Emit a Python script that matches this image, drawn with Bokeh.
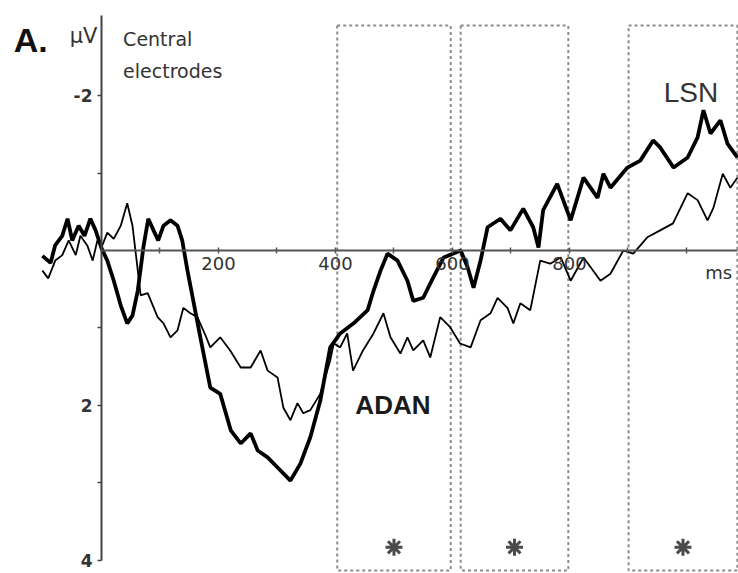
from bokeh.plotting import figure
from bokeh.models import Range1d, LinearAxis, FixedTicker
from bokeh.core.properties import value
from bokeh.embed import file_html
from bokeh.resources import INLINE

# ---- data (time in ms, amplitude in µV; negative plotted upward) ----
thick_t = [-101, -87, -79, -67, -58, -50, -39, -29, -19, -10,
           0, 10, 21, 33, 44, 53, 62, 72, 80, 89,
           97, 106, 118, 130, 138, 147, 157, 169, 186, 203,
           221, 238, 255, 267, 284, 301, 323, 340, 357, 374,
           391, 408, 431, 455, 465, 477, 489, 506, 523, 533,
           550, 567, 585, 614, 626, 636, 648, 660, 682, 699,
           721, 738, 747, 755, 779, 802, 824, 848, 858, 870,
           899, 921, 943, 955, 978, 1002, 1019, 1029, 1041, 1058,
           1070, 1087]
thick_v = [0.07, 0.16, -0.07, -0.19, -0.41, -0.13, -0.32, -0.19, -0.41, -0.26,
           -0.03, 0.13, 0.39, 0.71, 0.94, 0.84, 0.52, -0.06, -0.41, -0.26,
           -0.13, -0.32, -0.39, -0.32, -0.13, 0.26, 0.65, 1.12, 1.77, 1.85,
           2.32, 2.49, 2.36, 2.58, 2.67, 2.80, 2.97, 2.75, 2.41, 1.94,
           1.25, 1.07, 0.94, 0.77, 0.52, 0.26, 0.04, 0.13, 0.39, 0.65,
           0.61, 0.35, 0.09, 0.0, 0.22, 0.48, 0.13, -0.30, -0.41, -0.26,
           -0.54, -0.30, -0.04, -0.52, -0.86, -0.39, -0.94, -0.68, -0.99, -0.81,
           -1.07, -1.16, -1.42, -1.33, -1.07, -1.20, -1.46, -1.81, -1.51, -1.68,
           -1.38, -1.20]

thin_t = [-101, -91, -79, -67, -56, -44, -36, -24, -15, -7,
          0, 10, 21, 33, 44, 53, 61, 67, 79, 96,
          106, 118, 130, 140, 152, 164, 178, 186, 203, 220,
          238, 255, 272, 284, 301, 311, 323, 335, 345, 357,
          374, 391, 397, 408, 420, 430, 447, 465, 482, 494,
          511, 523, 533, 550, 562, 579, 596, 613, 631, 648,
          665, 677, 694, 704, 716, 733, 750, 767, 785, 802,
          824, 853, 870, 892, 909, 933, 955, 977, 1002, 1019,
          1036, 1046, 1062, 1075, 1087]
thin_v = [0.26, 0.36, 0.13, 0.06, -0.13, 0.06, -0.19, -0.06, 0.13, -0.13,
          -0.04, -0.23, -0.15, -0.32, -0.61, -0.32, 0.19, 0.58, 0.55, 0.86,
          0.94, 1.12, 1.03, 0.74, 0.81, 0.86, 1.10, 1.25, 1.12, 1.29,
          1.51, 1.51, 1.29, 1.55, 1.64, 2.03, 2.19, 1.97, 2.10, 2.06,
          1.85, 1.42, 1.20, 1.25, 1.07, 1.55, 1.29, 1.07, 0.81, 1.12,
          1.33, 1.12, 1.29, 1.16, 1.38, 0.86, 0.99, 1.20, 1.25, 0.90,
          0.81, 0.61, 0.74, 0.94, 0.68, 0.77, 0.13, 0.17, 0.09, 0.39,
          0.09, 0.39, 0.30, 0.0, 0.04, -0.17, -0.26, -0.35, -0.74, -0.65,
          -0.39, -0.55, -0.99, -0.81, -0.94]

win_start = [403, 614, 901]
win_end = [597, 798, 1087]

x_ticks = [100, 200, 300, 400, 500, 600, 700, 800, 900, 1000]
x_tick_labels = ["", "200", "", "400", "", "600", "", "800", "", ""]
y_ticks = [-2, -1, 1, 2, 3, 4]
y_tick_labels = ["-2", "", "", "2", "", "4"]

# ---- figure ----
p = figure(width=738, height=573,
           x_range=Range1d(-172.6, 1088.9), y_range=Range1d(4.168, -3.226),
           output_backend="svg", toolbar_location=None,
           x_axis_location=None, y_axis_location=None, min_border=0)
p.outline_line_color = None
p.background_fill_color = "white"
p.border_fill_color = "white"
for g in p.grid:
    g.grid_line_color = None

# analysis windows
p.quad(left=win_start, right=win_end, top=-2.903, bottom=4.13,
       fill_color=None, line_color="#8c8c8c", line_width=2, line_dash="3 3")

# axes at t=0 and v=0
xaxis = LinearAxis(fixed_location=0, bounds=(0, 1088),
                   ticker=FixedTicker(ticks=x_ticks, minor_ticks=[]),
                   major_label_overrides={t: l for t, l in zip(x_ticks, x_tick_labels)},
                   axis_line_color="#555555", axis_line_width=2,
                   major_tick_line_color="#555555", major_tick_line_width=1.5,
                   major_tick_out=3, major_tick_in=3,
                   minor_tick_line_color=None,
                   major_label_text_font="DejaVu Sans",
                   major_label_text_font_size="18px",
                   major_label_text_color="#333333",
                   major_label_standoff=4)
p.add_layout(xaxis, "below")

yaxis = LinearAxis(fixed_location=0, bounds=(-3.03, 4),
                   ticker=FixedTicker(ticks=y_ticks, minor_ticks=[]),
                   major_label_overrides={t: l for t, l in zip(y_ticks, y_tick_labels)},
                   axis_line_color="#444444", axis_line_width=2,
                   major_tick_line_color="#444444", major_tick_line_width=1.5,
                   major_tick_out=4, major_tick_in=0,
                   minor_tick_line_color=None,
                   major_label_text_font="DejaVu Sans",
                   major_label_text_font_size="17px",
                   major_label_text_font_style="bold",
                   major_label_text_color="#333333",
                   major_label_standoff=5)
p.add_layout(yaxis, "left")

# waveforms
p.line(thin_t, thin_v, line_color="black", line_width=1.8)
p.line(thick_t, thick_v, line_color="black", line_width=3.8)

# asterisks in the window centres
p.scatter(x=[(s + e) / 2 for s, e in zip(win_start, win_end)], y=[3.83] * 3,
          marker="asterisk", size=17, line_width=3, line_color="#4a4a4a")

# texts
p.text(x=[-150], y=[-2.72], text=["A."], text_font=value("Liberation Sans"),
       text_font_size="34px", text_font_style="bold", text_color="#111111",
       text_align="left", text_baseline="alphabetic")
p.text(x=[-7], y=[-2.77], text=["µV"], text_font=value("DejaVu Sans"),
       text_font_size="21px", text_color="#333333",
       text_align="right", text_baseline="alphabetic")
p.text(x=[37, 37], y=[-2.735, -2.32], text=["Central", "electrodes"],
       text_font=value("DejaVu Sans"), text_font_size="19px", text_color="#333333",
       text_align="left", text_baseline="alphabetic")
p.text(x=[1032], y=[0.284], text=["ms"], text_font=value("DejaVu Sans"),
       text_font_size="18px", text_color="#333333",
       text_align="left", text_baseline="alphabetic")
p.text(x=[961], y=[-2.04], text=["LSN"], text_font=value("Liberation Sans"),
       text_font_size="28px", text_color="#333333",
       text_align="left", text_baseline="alphabetic")
p.text(x=[434], y=[2.0], text=["ADAN"], text_font=value("Liberation Sans"),
       text_font_size="26px", text_font_style="bold", text_color="#1a1a1a",
       text_align="left", text_baseline="alphabetic")

open("out.html", "w").write(file_html(p, INLINE))
